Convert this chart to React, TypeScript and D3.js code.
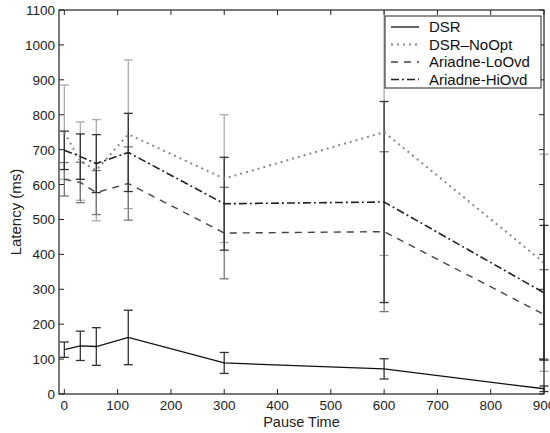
import React from "react";
import * as d3 from "d3";

const pauseTimes = [0, 30, 60, 120, 300, 600, 900];
const seriesNames = ["DSR", "DSR\u2013NoOpt", "Ariadne-LoOvd", "Ariadne-HiOvd"];
const dsrMean = [127, 138, 136, 162, 89, 72, 15];
const dsrErr = [22, 42, 54, 78, 30, 29, 8];
const noOptMean = [750, 667, 641, 744, 617, 750, 376];
const noOptErr = [135, 112, 145, 213, 183, 353, 311];
const loOvdMean = [615, 606, 577, 603, 461, 465, 228];
const loOvdErr = [48, 58, 63, 105, 131, 229, 128];
const hiOvdMean = [698, 680, 660, 692, 545, 550, 290];
const hiOvdErr = [55, 65, 83, 112, 133, 288, 193];
const xTicks = [0, 100, 200, 300, 400, 500, 600, 700, 800, 900];
const yTicks = [0, 100, 200, 300, 400, 500, 600, 700, 800, 900, 1000, 1100];

const W = 550, H = 433;
const left = 59, right = 544, top = 10, bottom = 394;

export default function App() {
  const x = d3.scaleLinear().domain([-10, 900]).range([left, right]);
  const y = d3.scaleLinear().domain([0, 1100]).range([bottom, top]);
  const font = "Liberation Sans, Arial, Helvetica, sans-serif";

  const series = [
    { name: seriesNames[0], mean: dsrMean, err: dsrErr, stroke: "#111", dash: "", width: 1.3, errColor: "#333" },
    { name: seriesNames[1], mean: noOptMean, err: noOptErr, stroke: "#888", dash: "2,4", width: 2, errColor: "#aaa" },
    { name: seriesNames[2], mean: loOvdMean, err: loOvdErr, stroke: "#444", dash: "7,6", width: 1.4, errColor: "#777" },
    { name: seriesNames[3], mean: hiOvdMean, err: hiOvdErr, stroke: "#222", dash: "8,3,2,3", width: 1.6, errColor: "#333" },
  ];

  const line = d3.line<[number, number]>().x((d) => x(d[0])).y((d) => y(d[1]));
  const cap = 4.5;
  const tl = 5;

  return (
    <svg width={W} height={H} style={{ position: "fixed", left: 0, top: 0, background: "#fff" }} fontFamily={font}>
      <defs>
        <clipPath id="plot">
          <rect x={left} y={top} width={right - left + 6} height={bottom - top} />
        </clipPath>
      </defs>
      <rect x={0} y={0} width={W} height={H} fill="#fff" />
      <g clipPath="url(#plot)">
        {[1, 2, 3, 0].map((si) => {
          const s = series[si];
          return (
            <g key={"e" + si} stroke={s.errColor} strokeWidth={1.3} fill="none">
              {pauseTimes.map((t, i) => {
                const lo = s.mean[i] - s.err[i];
                const hi = s.mean[i] + s.err[i];
                const cx = x(t);
                return (
                  <g key={i}>
                    <line x1={cx} x2={cx} y1={y(lo)} y2={y(hi)} />
                    <line x1={cx - cap} x2={cx + cap} y1={y(lo)} y2={y(lo)} />
                    <line x1={cx - cap} x2={cx + cap} y1={y(hi)} y2={y(hi)} />
                  </g>
                );
              })}
            </g>
          );
        })}
        {series.map((s, si) => (
          <path
            key={"l" + si}
            d={line(pauseTimes.map((t, i) => [t, s.mean[i]] as [number, number])) || ""}
            fill="none"
            stroke={s.stroke}
            strokeWidth={s.width}
            strokeDasharray={s.dash}
          />
        ))}
      </g>
      <rect x={left} y={top} width={right - left} height={bottom - top} fill="none" stroke="#222" strokeWidth={1.2} />
      <g stroke="#222" strokeWidth={1}>
        {xTicks.map((t) => (
          <g key={"xt" + t}>
            <line x1={x(t)} x2={x(t)} y1={bottom} y2={bottom - tl} />
            <line x1={x(t)} x2={x(t)} y1={top} y2={top + tl} />
          </g>
        ))}
        {yTicks.map((t) => (
          <g key={"yt" + t}>
            <line x1={left} x2={left + tl} y1={y(t)} y2={y(t)} />
            <line x1={right} x2={right - tl} y1={y(t)} y2={y(t)} />
          </g>
        ))}
      </g>
      <g fontSize={13.5} fill="#222">
        {xTicks.map((t) => (
          <text key={"xl" + t} x={x(t)} y={bottom + 16} textAnchor="middle">
            {t}
          </text>
        ))}
        {yTicks.map((t) => (
          <text key={"yl" + t} x={left - 4} y={y(t) + 5} textAnchor="end">
            {t}
          </text>
        ))}
      </g>
      <text x={(left + right) / 2} y={427} textAnchor="middle" fontSize={14.5} fill="#222">
        Pause Time
      </text>
      <text transform={`translate(21,${(top + bottom) / 2 + 10}) rotate(-90)`} textAnchor="middle" fontSize={15} fill="#222">
        Latency (ms)
      </text>
      <g>
        <rect x={385} y={16} width={156} height={72} fill="#fff" stroke="#222" strokeWidth={1} />
        {series.map((s, i) => {
          const ly = 27 + i * 17.5;
          return (
            <g key={"lg" + i}>
              <line x1={391} x2={419} y1={ly} y2={ly} stroke={s.stroke} strokeWidth={s.width} strokeDasharray={s.dash} />
              <text x={429} y={ly + 5} fontSize={15} fill="#111">
                {s.name}
              </text>
            </g>
          );
        })}
      </g>
    </svg>
  );
}
